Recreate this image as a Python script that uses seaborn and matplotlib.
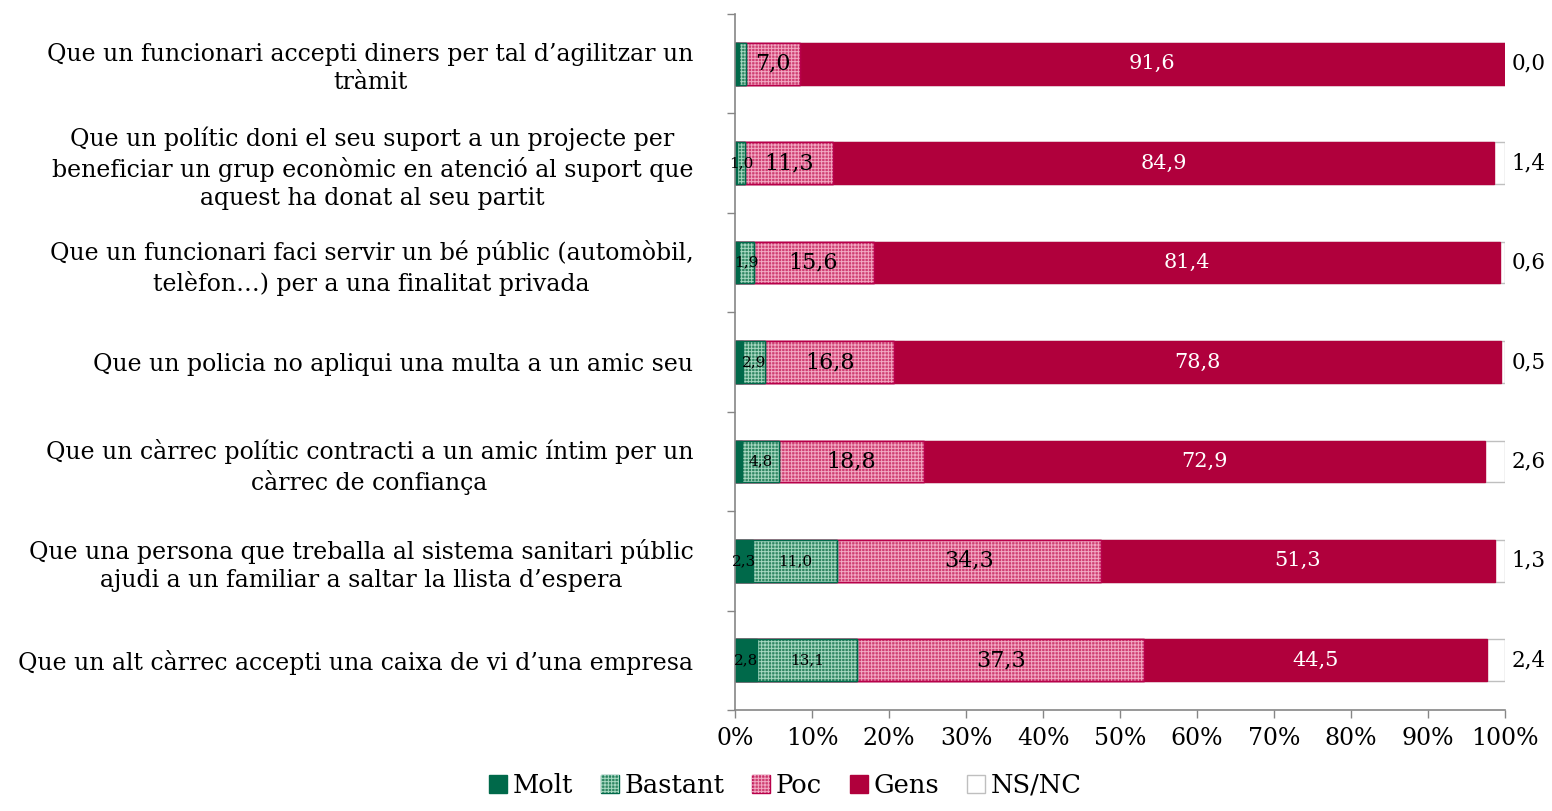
import numpy as np
import pandas as pd
import seaborn as sns
import matplotlib.pyplot as plt
from matplotlib.patches import Patch

# Data (%)
categories = [
    "Que un funcionari accepti diners per tal d’agilitzar un\ntràmit",
    "Que un polític doni el seu suport a un projecte per\nbeneficiar un grup econòmic en atenció al suport que\naquest ha donat al seu partit",
    "Que un funcionari faci servir un bé públic (automòbil,\ntelèfon…) per a una finalitat privada",
    "Que un policia no apliqui una multa a un amic seu",
    "Que un càrrec polític contracti a un amic íntim per un\ncàrrec de confiança",
    "Que una persona que treballa al sistema sanitari públic\najudi a un familiar a saltar la llista d’espera",
    "Que un alt càrrec accepti una caixa de vi d’una empresa",
]
molt = [0.5, 0.3, 0.5, 1.0, 0.9, 2.3, 2.8]
bastant = [0.9, 1.0, 1.9, 2.9, 4.8, 11.0, 13.1]
poc = [7.0, 11.3, 15.6, 16.8, 18.8, 34.3, 37.3]
gens = [91.6, 84.9, 81.4, 78.8, 72.9, 51.3, 44.5]
nsnc = [0.0, 1.4, 0.6, 0.5, 2.6, 1.3, 2.4]

series = ["Molt", "Bastant", "Poc", "Gens", "NS/NC"]
face = {"Molt": "#00694a", "Bastant": "#2f8662", "Poc": "#cf3f72", "Gens": "#b0003c", "NS/NC": "#ffffff"}
edge = {"Molt": "#00694a", "Bastant": "#00694a", "Poc": "#b8004a", "Gens": "#b0003c", "NS/NC": "#bfbfbf"}
hatch_col = {"Bastant": "#a6d8c1", "Poc": "#f2a9c3"}

df = pd.DataFrame({"cat": categories, "Molt": molt, "Bastant": bastant,
                   "Poc": poc, "Gens": gens, "NS/NC": nsnc})
# 100% stacked: normalise each row
total = df[series].sum(axis=1)
for s in series:
    df[s + "_pct"] = df[s] / total * 100
cum = df[[s + "_pct" for s in series]].cumsum(axis=1)
for s in series:
    df[s + "_cum"] = cum[s + "_pct"]

sns.set_style("white")
plt.rcParams["font.family"] = ["DejaVu Serif"]
plt.rcParams["hatch.linewidth"] = 0.7
plt.rcParams["text.color"] = "black"
plt.rcParams["xtick.labelcolor"] = "black"
plt.rcParams["ytick.labelcolor"] = "black"

fig = plt.figure(figsize=(15.52, 8.11), dpi=100)
ax = fig.add_axes([0.4736, 0.1245, 0.4961, 0.8582])

bar_w = 0.42
for s in reversed(series):
    sns.barplot(data=df, x=s + "_cum", y="cat", color=face[s], saturation=1,
                width=bar_w, edgecolor=edge[s], linewidth=1, errorbar=None, ax=ax)
    if s in hatch_col:
        sns.barplot(data=df, x=s + "_cum", y="cat", color=face[s], saturation=1,
                    width=bar_w, errorbar=None, ax=ax)
        for p in ax.containers[-1]:
            p.set_facecolor("none")
            p.set_edgecolor(hatch_col[s])
            p.set_linewidth(0)
            p.set_hatch("+++++")
        # redraw the border on top of the hatch
        sns.barplot(data=df, x=s + "_cum", y="cat", color=face[s], saturation=1,
                    width=bar_w, errorbar=None, ax=ax)
        for p in ax.containers[-1]:
            p.set_facecolor("none")
            p.set_edgecolor(edge[s])
            p.set_linewidth(1)

# Labels
def fmt(v):
    return f"{v:.1f}".replace(".", ",")

for i in range(len(df)):
    start = 0
    for s in series[:-1]:
        w = df.loc[i, s + "_pct"]
        v = df.loc[i, s]
        mid = start + w / 2
        if s == "Molt" and v > 1.5:
            ax.text(mid, i, fmt(v), ha="center", va="center", fontsize=11, color="black")
        elif s == "Bastant" and v >= 1.0:
            ax.text(mid, i, fmt(v), ha="center", va="center", fontsize=11, color="black")
        elif s == "Poc":
            ax.text(mid, i, fmt(v), ha="center", va="center", fontsize=16, color="black")
        elif s == "Gens":
            ax.text(mid, i, fmt(v), ha="center", va="center", fontsize=15, color="white")
        start += w
    ax.text(100.9, i, fmt(df.loc[i, "NS/NC"]), ha="left", va="center", fontsize=15.5, color="black")

ax.set_xlim(0, 100)
ax.set_ylim(6.5, -0.5)
ax.set_xticks(np.arange(0, 101, 10))
ax.set_xticklabels([f"{t}%" for t in range(0, 101, 10)], fontsize=17)
ax.set_yticks(range(len(categories)))
ax.set_yticklabels(categories, fontsize=17, multialignment="center", linespacing=1.28)
ax.set_yticks(np.arange(-0.5, len(categories)), minor=True)
ax.tick_params(axis="y", which="major", length=0, pad=30)
ax.tick_params(axis="y", which="minor", length=6, color="#868686", width=1, left=True)
ax.tick_params(axis="x", which="major", length=6, color="#868686", width=1, bottom=True, pad=6)
ax.set_xlabel("")
ax.set_ylabel("")
for sp in ["top", "right"]:
    ax.spines[sp].set_visible(False)
for sp in ["left", "bottom"]:
    ax.spines[sp].set_color("#868686")
    ax.spines[sp].set_linewidth(1.2)

# Legend
handles = []
for s in series:
    base = Patch(facecolor=face[s], edgecolor=edge[s], linewidth=1)
    if s in hatch_col:
        h = Patch(facecolor="none", edgecolor=hatch_col[s], linewidth=0, hatch="+++++")
        handles.append((base, h))
    else:
        handles.append(base)
fig.legend(handles, series, loc="lower center", bbox_to_anchor=(0.506, -0.012), ncol=5,
           frameon=False, fontsize=18.5, handlelength=0.7, handleheight=0.7,
           handletextpad=0.2, columnspacing=1.1)

fig.savefig("out.png", dpi=100)
